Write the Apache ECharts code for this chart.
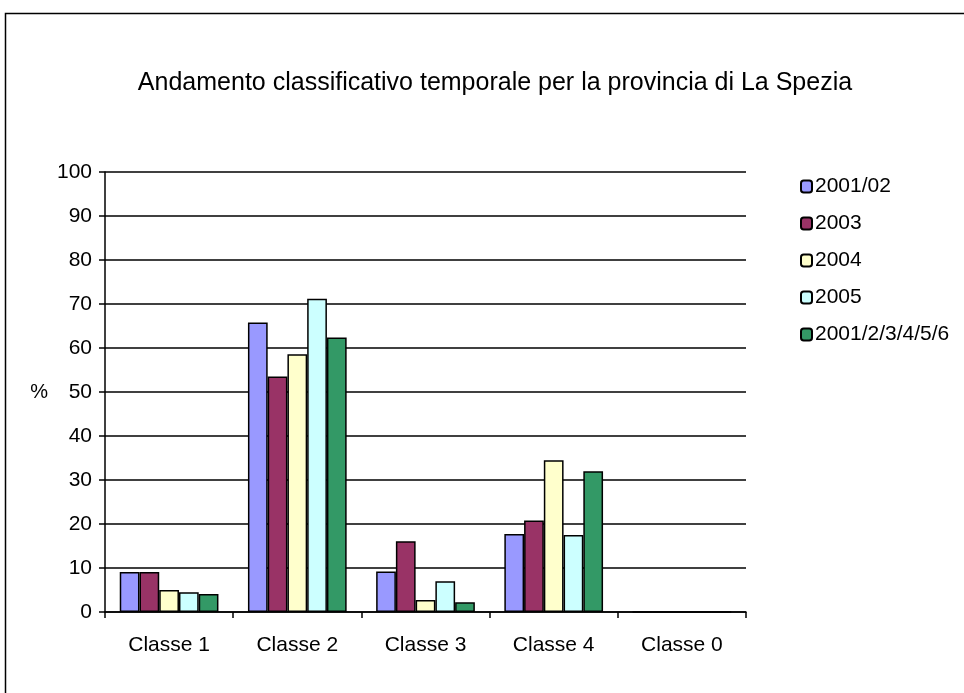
<!DOCTYPE html>
<html><head><meta charset="utf-8">
<script src="https://cdn.jsdelivr.net/npm/echarts@6/dist/echarts.min.js"></script>
<style>html,body{margin:0;padding:0;background:#fff}#c{width:964px;height:693px}</style>
</head><body><div id="c"></div>
<script>
const categories = ['Classe 1', 'Classe 2', 'Classe 3', 'Classe 4', 'Classe 0'];
const seriesNames = ['2001/02', '2003', '2004', '2005', '2001/2/3/4/5/6'];
const s2001_02 = [9.1, 65.8, 9.2, 17.7, 0];
const s2003 = [9.1, 53.5, 16.1, 20.8, 0];
const s2004 = [5.0, 58.6, 2.7, 34.5, 0];
const s2005 = [4.5, 71.2, 7.0, 17.5, 0];
const s2001_6 = [4.1, 62.4, 2.2, 32.0, 0];
const colors = ['#9999FF', '#993366', '#FFFFCC', '#CCFFFF', '#339966'];
const allValues = [s2001_02, s2003, s2004, s2005, s2001_6];

const font = 'Liberation Sans, Arial, sans-serif';
const chart = echarts.init(document.getElementById('c'));
chart.setOption({
  animation: false,
  backgroundColor: '#fff',
  title: {
    text: 'Andamento classificativo temporale per la provincia di La Spezia',
    left: 490, top: 66, textAlign: 'center',
    textStyle: { fontFamily: font, fontSize: 25, fontWeight: 'normal', color: '#000' }
  },
  graphic: [{
    type: 'rect', shape: { x: 5.5, y: 13.5, width: 1100, height: 800 },
    style: { fill: 'none', stroke: '#000', lineWidth: 1.5 }, silent: true, z: -1
  }],
  legend: {
    orient: 'vertical', left: 800, top: 176, padding: 0,
    itemWidth: 11, itemHeight: 12, itemGap: 16,
    textStyle: { fontFamily: font, fontSize: 21, color: '#000', padding: [0, 0, 0, -2] },
    data: seriesNames
  },
  grid: { left: 105, right: 218, top: 172, bottom: 81 },
  xAxis: {
    type: 'category', data: categories,
    axisLine: { lineStyle: { color: '#000', width: 1.5 } },
    axisTick: { show: true, length: 6, lineStyle: { color: '#000', width: 1.5 } },
    axisLabel: { fontFamily: font, fontSize: 21, color: '#000', margin: 23 }
  },
  yAxis: {
    type: 'value', min: 0, max: 100, interval: 10,
    name: '%', nameLocation: 'middle', nameGap: 57, nameRotate: 0,
    nameTextStyle: { fontFamily: font, fontSize: 20, color: '#000' },
    axisLine: { show: true, lineStyle: { color: '#000', width: 1.5 } },
    axisTick: { show: true, length: 6, lineStyle: { color: '#000', width: 1.5 } },
    axisLabel: { fontFamily: font, fontSize: 21, color: '#000', margin: 13 },
    splitLine: { lineStyle: { color: '#000', width: 1.5 } }
  },
  series: seriesNames.map((n, i) => ({
    name: n, type: 'bar', data: allValues[i],
    barGap: '0%', barCategoryGap: '23%',
    itemStyle: { color: colors[i], borderColor: '#000', borderWidth: 1.5 }
  }))
});
</script></body></html>
